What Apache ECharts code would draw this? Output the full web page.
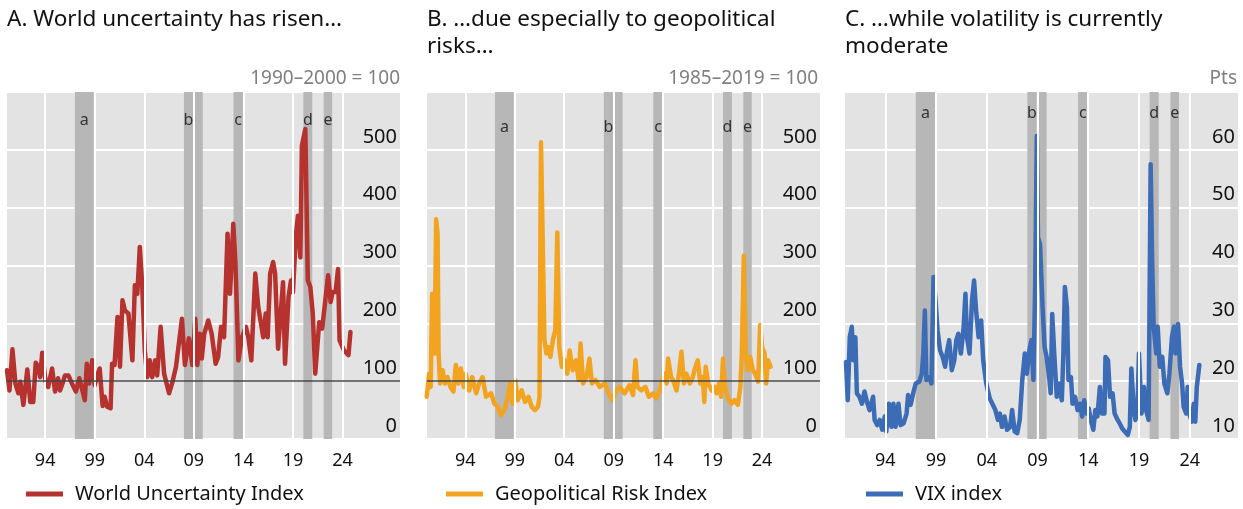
<!DOCTYPE html>
<html><head><meta charset="utf-8">
<script src="https://cdn.jsdelivr.net/npm/echarts@6/dist/echarts.min.js"></script>
<style>html,body{margin:0;padding:0;background:#fff}#c{width:1243px;height:509px}</style>
</head><body><div id="c"></div>
<script>
// ---- data ----
const tickYears = [1994, 1999, 2004, 2009, 2014, 2019, 2024];
const tickLabels = ['94', '99', '04', '09', '14', '19', '24'];
const bandStarts = [1997.0, 2008.0, 2009.08, 2013.0, 2020.05, 2022.1];
const bandEnds   = [1998.9, 2008.92, 2009.9, 2013.95, 2020.95, 2022.95];
const bandNames  = ['a', 'b', '', 'c', 'd', 'e'];

const wuiYears = [1990.15,1990.4,1990.7,1991.0,1991.3,1991.5,1991.8,1992.2,1992.5,1992.8,1993.05,1993.3,1993.5,1993.7,1994.05,1994.3,1994.7,1995.0,1995.3,1995.5,1995.75,1996.0,1996.35,1996.7,1997.1,1997.45,1998.0,1998.2,1998.45,1998.75,1999.0,1999.25,1999.5,1999.8,2000.0,2000.25,2000.6,2000.75,2001.0,2001.3,2001.55,2001.8,2002.05,2002.4,2002.8,2003.05,2003.3,2003.55,2003.8,2004.05,2004.3,2004.55,2004.8,2005.1,2005.3,2005.65,2006.0,2006.5,2006.85,2007.2,2007.8,2008.1,2008.5,2008.85,2009.15,2009.35,2009.6,2009.8,2010.05,2010.45,2010.8,2011.2,2011.45,2011.75,2012.05,2012.4,2012.65,2012.98,2013.2,2013.5,2013.85,2014.25,2014.5,2014.8,2015.2,2015.5,2016.0,2016.25,2016.45,2016.7,2017.0,2017.2,2017.5,2017.7,2018.0,2018.2,2018.55,2018.8,2019.0,2019.3,2019.5,2019.75,2019.9,2020.25,2020.5,2020.75,2021.0,2021.25,2021.65,2021.95,2022.3,2022.55,2022.8,2023.0,2023.3,2023.55,2023.7,2024.15,2024.6,2024.8];
const wuiValues = [119,84,155,96,79,99,59,120,64,64,132,125,107,149,99,90,122,82,105,84,96,110,110,96,82,105,67,130,96,136,93,110,122,57,73,56,53,130,128,211,125,240,222,217,136,266,251,332,263,153,107,136,107,136,110,194,113,79,99,125,208,128,174,128,208,128,182,139,182,205,182,130,142,194,176,355,251,372,303,136,176,194,176,136,286,228,176,217,176,286,306,286,156,153,271,130,245,274,254,352,386,314,507,536,274,263,217,113,202,191,245,283,237,254,254,294,171,153,145,185];

const gprYears = [1990.1,1990.35,1990.5,1990.65,1990.8,1990.9,1991.05,1991.2,1991.3,1991.45,1991.7,1991.95,1992.2,1992.5,1992.8,1993.05,1993.3,1993.55,1993.85,1994.05,1994.4,1994.7,1995.1,1995.4,1995.75,1996.1,1996.6,1996.95,1997.3,1997.6,1997.95,1998.3,1998.55,1998.8,1999.05,1999.3,1999.7,2000.05,2000.4,2000.7,2001.05,2001.35,2001.5,2001.65,2001.85,2002.0,2002.2,2002.4,2002.6,2002.85,2003.1,2003.3,2003.5,2003.75,2004.05,2004.3,2004.55,2004.85,2005.2,2005.45,2005.65,2005.9,2006.25,2006.55,2006.8,2007.15,2007.6,2008.1,2008.5,2008.85,2009.3,2009.6,2010.1,2010.6,2010.95,2011.2,2011.4,2011.8,2012.2,2012.55,2013.0,2013.3,2013.65,2014.1,2014.35,2014.5,2014.8,2015.0,2015.35,2015.6,2015.85,2016.1,2016.35,2016.7,2017.0,2017.2,2017.5,2017.75,2018.0,2018.15,2018.3,2018.55,2018.9,2019.2,2019.4,2019.65,2019.85,2020.05,2020.25,2020.55,2020.9,2021.2,2021.55,2021.8,2021.95,2022.15,2022.35,2022.55,2022.8,2023.05,2023.3,2023.6,2023.8,2024.0,2024.25,2024.4,2024.6,2024.85];
const gprValues = [73,113,90,251,240,148,380,355,148,96,119,96,107,90,82,128,96,122,90,113,84,107,79,96,107,73,79,61,56,41,50,73,96,61,102,67,84,64,73,56,50,56,73,513,510,171,148,159,142,171,188,357,159,125,136,113,153,119,136,102,165,96,107,139,96,102,90,96,79,67,84,90,79,93,76,136,90,84,90,73,79,70,84,113,96,139,107,102,84,113,151,96,113,96,107,122,136,96,107,64,125,96,84,90,79,96,73,139,90,70,61,67,59,90,148,317,148,119,142,119,113,99,197,159,148,96,136,125];

const vixYears = [1990.13,1990.3,1990.5,1990.7,1990.85,1991.05,1991.2,1991.45,1991.7,1991.95,1992.2,1992.45,1992.8,1992.95,1993.2,1993.45,1993.7,1993.95,1994.1,1994.35,1994.6,1994.8,1995.0,1995.3,1995.5,1995.8,1996.1,1996.25,1996.5,1996.75,1997.0,1997.35,1997.6,1997.75,1997.9,1998.05,1998.35,1998.55,1998.75,1998.95,1999.15,1999.4,1999.65,1999.9,2000.05,2000.3,2000.55,2000.8,2001.0,2001.2,2001.45,2001.7,2001.9,2002.05,2002.3,2002.55,2002.75,2002.95,2003.2,2003.45,2003.65,2003.95,2004.3,2004.55,2004.85,2005.1,2005.3,2005.5,2005.75,2006.0,2006.3,2006.5,2006.75,2007.0,2007.25,2007.5,2007.75,2007.95,2008.2,2008.4,2008.6,2008.77,2008.93,2009.05,2009.25,2009.5,2009.7,2009.9,2010.15,2010.3,2010.45,2010.65,2010.9,2011.1,2011.4,2011.55,2011.7,2011.9,2012.05,2012.3,2012.45,2012.7,2012.95,2013.2,2013.4,2013.6,2013.85,2014.05,2014.25,2014.5,2014.7,2014.9,2015.15,2015.35,2015.6,2015.7,2015.95,2016.15,2016.4,2016.6,2016.9,2017.1,2017.35,2017.6,2017.9,2018.1,2018.25,2018.5,2018.65,2018.85,2019.0,2019.25,2019.5,2019.7,2019.95,2020.15,2020.3,2020.45,2020.7,2020.85,2021.05,2021.3,2021.5,2021.8,2022.0,2022.25,2022.45,2022.6,2022.85,2023.05,2023.25,2023.4,2023.65,2023.8,2023.95,2024.2,2024.4,2024.55,2024.7,2024.95];
const vixValues = [23.3,16.7,27.6,29.4,23.6,27.6,17.9,17.3,16.1,18.2,16.4,15.0,17.3,13.3,12.4,13.3,11.6,13.9,11.3,16.1,12.1,16.1,12.1,16.1,12.4,12.7,14.4,17.6,15.9,17.9,19.6,19.9,21.3,24.8,32.2,20.2,20.7,19.6,38.0,34.0,28.8,25.3,24.2,22.5,24.8,27.1,21.9,23.6,27.1,28.2,24.8,28.8,35.1,27.6,24.8,34.0,37.4,32.2,27.6,30.5,23.6,19.6,17.0,16.1,15.0,13.3,14.4,12.1,13.9,11.6,12.1,15.0,11.3,11.0,13.3,20.2,24.8,21.3,25.3,27.1,20.2,36.3,62.4,44.9,43.7,32.8,25.9,24.2,20.7,17.9,31.6,24.8,17.3,19.6,16.7,24.8,36.3,32.8,20.2,20.7,16.1,17.3,15.0,16.1,13.9,16.7,14.4,15.3,13.3,11.6,15.0,13.9,19.0,14.4,14.4,24.2,23.6,17.3,17.9,14.4,13.3,12.7,11.8,11.3,10.7,12.1,22.2,15.0,13.3,15.0,24.8,14.4,19.0,15.0,13.3,57.5,40.9,29.4,24.8,29.4,22.5,24.2,19.6,17.9,21.3,27.6,29.4,24.8,29.9,22.5,19.6,15.6,14.4,19.0,14.4,13.0,16.1,13.0,19.0,22.8];

const titles = ['A. World uncertainty has risen…', 'B. …due especially to geopolitical\nrisks…', 'C. …while volatility is currently\nmoderate'];
const units = ['1990–2000 = 100', '1985–2019 = 100', 'Pts'];
const seriesNames = ['World Uncertainty Index', 'Geopolitical Risk Index', 'VIX index'];
const colors = ['#b5322e', '#f2a31f', '#3b6cb5'];

// ---- layout ----
const FONT = 'Noto Sans';
const panels = [
  {left: 7, xmin: 1990.15, xmax: 2029.8, ymin: 0, ymax: 600, yint: 100, ref: 100, labelOff: 15, years: wuiYears, vals: wuiValues, unitRight: 843, legLeft: 26},
  {left: 427, xmin: 1990.13, xmax: 2029.85, ymin: 0, ymax: 600, yint: 100, ref: 100, labelOff: 22, years: gprYears, vals: gprValues, unitRight: 425, legLeft: 446},
  {left: 845, xmin: 1990.03, xmax: 2028.76, ymin: 10, ymax: 70, yint: 10, ref: null, labelOff: 8, years: vixYears, vals: vixValues, unitRight: 6, legLeft: 866}
];

const grid = [], xAxis = [], yAxis = [], series = [], title = [], legend = [];
panels.forEach((p, i) => {
  grid.push({left: p.left, top: 92, width: 393, height: 347, show: true, backgroundColor: '#e3e3e3', borderWidth: 0, containLabel: false});
  xAxis.push({
    type: 'value', gridIndex: i, min: p.xmin, max: p.xmax,
    axisLine: {show: false},
    splitLine: {show: false},
    axisTick: {show: true, inside: true, length: 12, customValues: tickYears, lineStyle: {color: '#333', width: 1.5}},
    axisLabel: {customValues: tickYears, margin: 13, fontSize: 18, color: '#111', fontFamily: FONT,
      formatter: v => tickLabels[tickYears.indexOf(Math.round(v))] || ''}
  });
  yAxis.push({
    type: 'value', gridIndex: i, position: 'right', min: p.ymin, max: p.ymax, interval: p.yint,
    axisLine: {show: false}, axisTick: {show: false},
    splitLine: {show: true, lineStyle: {color: '#ffffff', width: 2}},
    axisLabel: {inside: true, margin: 3, fontSize: 20, color: '#111', fontFamily: FONT,
      verticalAlign: 'bottom', lineHeight: 26, showMaxLabel: false}
  });
  // vertical grid lines
  series.push({
    type: 'scatter', name: 'vgrid' + i, xAxisIndex: i, yAxisIndex: i, data: [], z: 1, silent: true,
    markLine: {silent: true, symbol: ['none', 'none'], label: {show: false},
      lineStyle: {color: '#ffffff', width: 2, type: 'solid'},
      data: tickYears.map(y => ({xAxis: y}))}
  });
  // shaded bands
  series.push({
    type: 'scatter', name: 'bands' + i, xAxisIndex: i, yAxisIndex: i, data: [], z: 2, silent: true,
    markArea: {silent: true, itemStyle: {color: '#b7b7b7'},
      label: {show: true, position: 'insideTop', offset: [0, p.labelOff], fontSize: 16, color: '#333', fontFamily: FONT},
      data: bandStarts.map((s, k) => [{xAxis: s, name: bandNames[k]}, {xAxis: bandEnds[k]}])}
  });
  if (p.ref !== null) {
    series.push({
      type: 'scatter', name: 'ref' + i, xAxisIndex: i, yAxisIndex: i, data: [], z: 3, silent: true,
      markLine: {silent: true, symbol: ['none', 'none'], label: {show: false},
        lineStyle: {color: '#444', width: 1.5, type: 'solid'}, data: [{yAxis: p.ref}]}
    });
  }
  series.push({
    type: 'line', name: seriesNames[i], xAxisIndex: i, yAxisIndex: i, z: 4,
    data: p.years.map((y, k) => [y, p.vals[k]]),
    showSymbol: false, symbol: 'none', color: colors[i],
    lineStyle: {color: colors[i], width: 4.5, join: 'round', cap: 'round'}
  });
  title.push({text: titles[i], left: p.left, top: 6, padding: 0,
    textStyle: {fontSize: 22.5, fontWeight: 'normal', color: '#111', fontFamily: FONT, lineHeight: 27}});
  title.push({text: units[i], right: p.unitRight, top: 68, padding: 0,
    textStyle: {fontSize: 19, fontWeight: 'normal', color: '#808080', fontFamily: FONT, lineHeight: 22}});
  legend.push({data: [seriesNames[i]], left: p.legLeft, top: 484, padding: 0, icon: 'rect',
    itemWidth: 37, itemHeight: 5, selectedMode: false,
    textStyle: {fontSize: 20, color: '#111', fontFamily: FONT, padding: [0, 0, 0, 7]}});
});

const chart = echarts.init(document.getElementById('c'), null, {renderer: 'canvas'});
chart.setOption({animation: false, title, legend, grid, xAxis, yAxis, series});
</script></body></html>
